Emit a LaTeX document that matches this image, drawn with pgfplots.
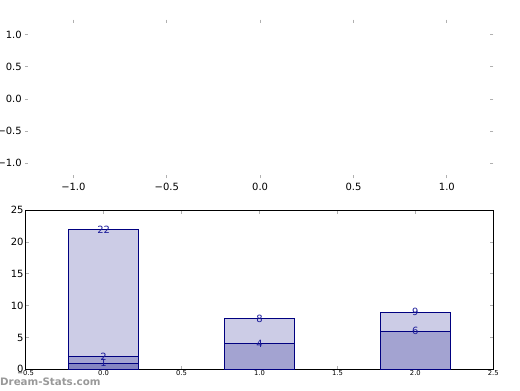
\documentclass[border=0pt]{standalone}
\usepackage{fontspec}
\setmainfont{DejaVu Sans}
\newfontfamily\wmfont{DejaVu Sans Bold}
\usepackage{pgfplots}
\pgfplotsset{compat=1.18}
\definecolor{barlight}{HTML}{CCCCE6}
\definecolor{barmed}{HTML}{A3A3D1}
\definecolor{bardark}{HTML}{8585C2}
\definecolor{edgenavy}{HTML}{000080}
\definecolor{labnavy}{HTML}{1A1A99}
\definecolor{tickgray}{HTML}{B0B0B0}
\begin{document}
\begin{tikzpicture}[x=1bp,y=1bp]
\path[use as bounding box] (0,0) rectangle (520,390);
% top empty axes
\begin{axis}[
  at={(26.7bp,213.3bp)}, anchor=south west,
  scale only axis, width=465bp, height=155.4bp,
  xmin=-1.25, xmax=1.24, ymin=-1.21, ymax=1.21,
  axis line style={draw=none},
  xtick={-1,-0.5,0,0.5,1},
  xticklabels={−1.0,−0.5,0.0,0.5,1.0},
  ytick={-1,-0.5,0,0.5,1},
  yticklabels={−1.0,−0.5,0.0,0.5,1.0},
  tick style={tickgray, line width=1bp},
  major tick length=3.5bp,
  tick align=center,
  xtick pos=both, ytick pos=both,
  xticklabel pos=bottom, yticklabel pos=left,
  tick label style={font=\fontsize{10}{12}\selectfont, inner sep=1bp},
  xticklabel style={yshift=-3bp},
  yticklabel style={xshift=-2bp},
]
\addplot[draw=none] coordinates {(0,0)};
\end{axis}
% bottom bar axes
\begin{axis}[
  at={(25.7bp,20.7bp)}, anchor=south west,
  scale only axis, width=467.6bp, height=159bp,
  xmin=-0.5, xmax=2.5, ymin=0, ymax=25,
  /pgf/number format/assume math mode=true,
  axis line style={black, line width=0.8bp},
  xtick={-0.5,0,0.5,1,1.5,2,2.5},
  xticklabels={−0.5,0.0,0.5,1.0,1.5,2.0,2.5},
  ytick={0,5,10,15,20,25},
  tick style={tickgray, line width=1bp},
  major tick length=3.5bp,
  tick align=inside,
  xtick pos=both, ytick pos=both,
  xticklabel pos=bottom, yticklabel pos=left,
  xticklabel style={font=\fontsize{6.8}{8}\selectfont, inner sep=1bp},
  yticklabel style={font=\fontsize{10}{12}\selectfont, inner sep=1bp, xshift=-1bp},
  every node near coord/.append style={anchor=center, text=labnavy, font=\fontsize{10}{12}\selectfont},
]
\addplot[ybar, bar width=0.45, bar shift=0pt, fill=barlight, draw=edgenavy, line width=0.8bp, nodes near coords]
  coordinates {(0,22) (1,8) (2,9)};
\addplot[ybar, bar width=0.45, bar shift=0pt, fill=barmed, draw=edgenavy, line width=0.8bp, nodes near coords]
  coordinates {(0,2) (1,4) (2,6)};
\addplot[ybar, bar width=0.45, bar shift=0pt, fill=bardark, draw=edgenavy, line width=0.8bp, nodes near coords]
  coordinates {(0,1)};
\end{axis}
\node[anchor=base west, text=black!40, font=\wmfont\fontsize{10.3}{12}\selectfont, inner sep=0pt] at (0,5) {Dream-Stats.com};
\end{tikzpicture}
\end{document}
